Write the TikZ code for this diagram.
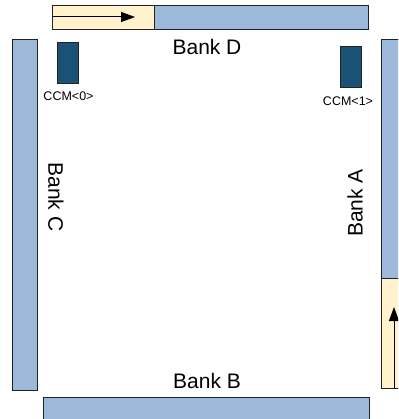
\documentclass[tikz,border=0pt]{standalone}
\usepackage{fontspec}
\setmainfont{Liberation Sans}
\usetikzlibrary{arrows.meta}
\definecolor{bankblue}{HTML}{9DB9D9}
\definecolor{bankyellow}{HTML}{FFF2CC}
\definecolor{ccmblue}{HTML}{1A5276}
\definecolor{edge}{HTML}{222222}
\tikzset{
  bank/.style={fill=bankblue, draw=edge, line width=0.8pt},
  hot/.style={fill=bankyellow, draw=edge, line width=0.8pt},
  ccm/.style={fill=ccmblue, draw=edge, line width=0.8pt},
  banklabel/.style={font=\fontsize{21}{24}\selectfont, inner sep=0pt},
  ccmlabel/.style={font=\fontsize{12.5}{14}\selectfont, inner sep=0pt},
  flow/.style={line width=1pt, -{Triangle[length=14pt,width=10pt]}}
}
\begin{document}
\begin{tikzpicture}[x=1pt,y=-1pt]
\useasboundingbox (0,0) rectangle (398,419);
\clip (0,0) rectangle (398,419);
% Bank D (top)
\path[hot] (52,5) rectangle (154,29);
\path[bank] (154,5) rectangle (368,29);
\coordinate (dS) at (52,17);
\coordinate (dE) at (135,17);
\draw[flow] (dS) -- (dE);
% Bank C (left)
\path[bank] (12,39) rectangle (37,390);
% Bank A (right)
\path[bank] (381,39) rectangle (406,278);
\path[hot] (381,278) rectangle (406,388);
\coordinate (aS) at (394,388);
\coordinate (aE) at (394,307);
\draw[flow] (aS) -- (aE);
% Bank B (bottom)
\path[bank] (43,397) rectangle (369,430);
% CCMs
\node[ccm, minimum width=21pt, minimum height=41pt, inner sep=0pt] (ccm0) at (67.5,62.5) {};
\node[ccm, minimum width=21pt, minimum height=41pt, inner sep=0pt] (ccm1) at (350.5,66.5) {};
\node[ccmlabel] (l0) at (68.5,96) {CCM<0>};
\node[ccmlabel] (l1) at (348,101) {CCM<1>};
% Labels
\node[banklabel] (tD) at (207,47) {Bank D};
\node[banklabel] (tB) at (207,381) {Bank B};
\node[banklabel, rotate=-90] (tC) at (56,197) {Bank C};
\node[banklabel, rotate=90] (tA) at (355,203) {Bank A};
\end{tikzpicture}
\end{document}
